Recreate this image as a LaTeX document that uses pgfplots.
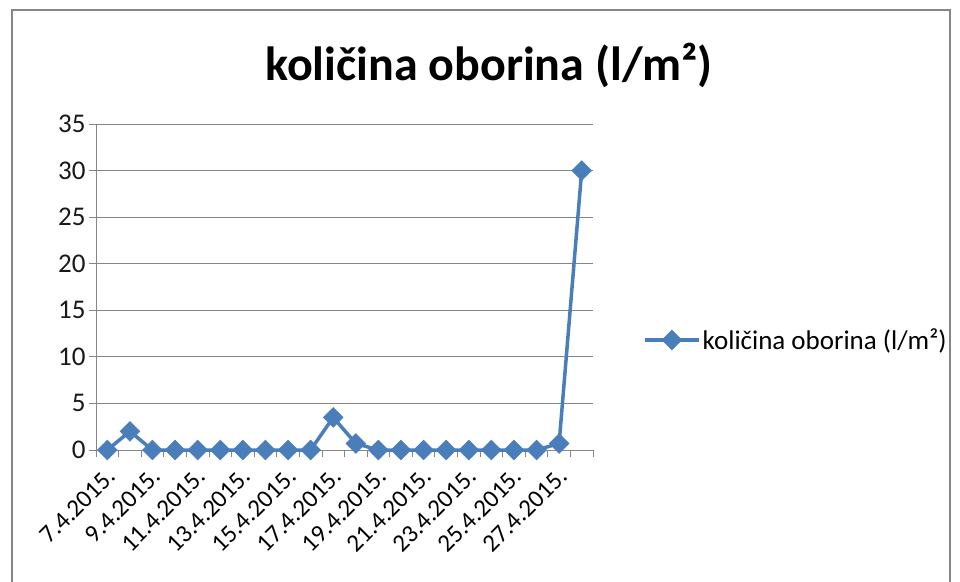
\documentclass[border=0pt]{standalone}
\usepackage{fontspec}
\setmainfont{Carlito}
\usepackage{pgfplots}
\pgfplotsset{compat=1.18}
\definecolor{serblue}{HTML}{4A7EBB}
\definecolor{gridgray}{HTML}{868686}
\begin{document}
\begin{tikzpicture}[x=1pt,y=1pt]
\useasboundingbox (0,0) rectangle (960,581);
\fill[white] (0,0) rectangle (960,581);
\draw[gridgray, line width=1.3pt] (12,-5) rectangle (950,571);
\node[font=\fontsize{48}{54}\selectfont\bfseries] at (489,516) {količina oborina (l/m²)};
\begin{axis}[
  at={(96pt,131pt)}, anchor=south west,
  scale only axis, width=497pt, height=326pt,
  xmin=-0.5, xmax=21.5, ymin=0, ymax=35,
  ytick={0,5,...,35},
  xtick={-0.5,0.5,...,21.5}, xticklabels={},
  extra x ticks={0,2,...,20},
  extra x tick labels={7.4.2015.,9.4.2015.,11.4.2015.,13.4.2015.,15.4.2015.,17.4.2015.,19.4.2015.,21.4.2015.,23.4.2015.,25.4.2015.,27.4.2015.},
  extra x tick style={major tick length=0pt, grid=none,
     xticklabel style={xshift=-2pt, yshift=-16pt, rotate=45, anchor=north east, font=\fontsize{25}{30}\selectfont, inner sep=0pt}},
  axis x line*=bottom, axis y line*=left,
  axis line style={gridgray, line width=0.8pt},
  tick style={gridgray, line width=0.8pt},
  tick align=outside, major tick length=7pt,
  ymajorgrids, grid style={gridgray, line width=0.8pt},
  yticklabel style={font=\fontsize{27}{32}\selectfont, text=black!90},
  /pgf/number format/assume math mode=true,
  clip=false,
  legend style={at={(547pt,110pt)}, anchor=west, draw=none, fill=none,
     font=\fontsize{27}{32}\selectfont, inner sep=0pt},
  legend cell align=left,
  legend image code/.code={\draw[mark repeat=2,mark phase=2] plot coordinates {(0pt,0pt)(27pt,0pt)(54pt,0pt)};},
]
\addplot[serblue, line width=3.5pt, mark=square*, mark size=7pt,
  mark options={rotate=45, line width=0.5pt, fill=serblue}]
  coordinates {
  (0,0) (1,2) (2,0) (3,0) (4,0) (5,0) (6,0) (7,0) (8,0) (9,0) (10,3.5)
  (11,0.7) (12,0) (13,0) (14,0) (15,0) (16,0) (17,0) (18,0) (19,0) (20,0.7) (21,30)
  };
\addlegendentry{količina oborina (l/m²)}
\end{axis}
\end{tikzpicture}
\end{document}
